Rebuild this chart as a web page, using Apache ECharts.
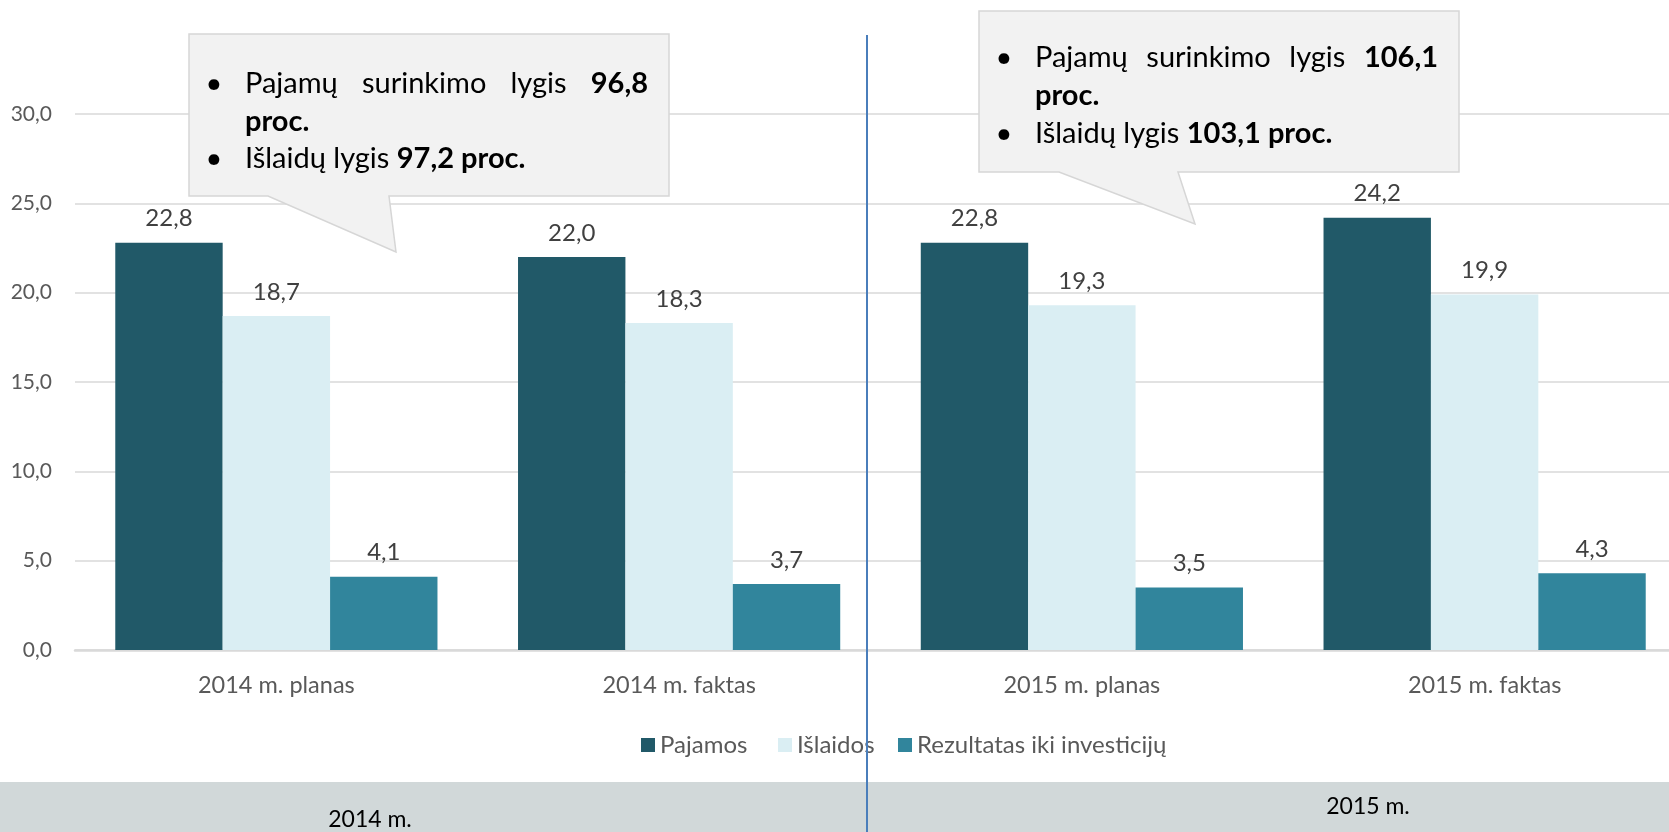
<!DOCTYPE html>
<html>
<head>
<meta charset="utf-8">
<script src="https://cdn.jsdelivr.net/npm/echarts@6/dist/echarts.min.js"></script>
<style>
html,body{margin:0;padding:0;background:#fff;overflow:hidden;width:1669px;height:832px;}
#chart{width:1700px;height:832px;}
</style>
</head>
<body>
<div id="chart"></div>
<script>
// ---- data ----
const categories = ['2014 m. planas', '2014 m. faktas', '2015 m. planas', '2015 m. faktas'];
const seriesNames = ['Pajamos', 'Išlaidos', 'Rezultatas iki investicijų'];
const pajamos = [22.8, 22.0, 22.8, 24.2];
const islaidos = [18.7, 18.3, 19.3, 19.9];
const rezultatas = [4.1, 3.7, 3.5, 4.3];
const yTicks = [0, 5, 10, 15, 20, 25, 30];
const periodLabels = ['2014 m.', '2015 m.'];
const callout1 = { words: ['Pajamų', 'surinkimo', 'lygis'], boldEnd: '96,8', line2: 'proc.', line3n: 'Išlaidų lygis ', line3b: '97,2 proc.' };
const callout2 = { words: ['Pajamų', 'surinkimo', 'lygis'], boldEnd: '106,1', line2: 'proc.', line3n: 'Išlaidų lygis ', line3b: '103,1 proc.' };

const colors = ['#215968', '#DAEEF3', '#31859C'];
const FONT = "Lato, 'Open Sans', sans-serif";
const fmt = v => Number(v).toFixed(1).replace('.', ',');

const chart = echarts.init(document.getElementById('chart'));

const mctx = document.createElement('canvas').getContext('2d');
function measure(text, size, weight) {
  mctx.font = (weight || 'normal') + ' ' + size + 'px ' + FONT;
  return mctx.measureText(text).width;
}

const CF = 29; // callout font size
function calloutGraphics(c, box, tip, textLeft, bulletX, rightX, ys) {
  const els = [];
  els.push({
    type: 'polygon', z: 100,
    shape: { points: [[box.x0, box.y0], [box.x1, box.y0], [box.x1, box.y1], [tip.b1, box.y1], [tip.tx, tip.ty], [tip.b0, box.y1], [box.x0, box.y1]] },
    style: { fill: '#F2F2F2', stroke: '#D6D6D6', lineWidth: 1.5 }
  });
  [ys[0], ys[2]].forEach(y => els.push({
    type: 'text', z: 101, x: bulletX, y: y,
    style: { text: '•', font: 'normal ' + CF + 'px ' + FONT, fill: '#000', verticalAlign: 'middle', align: 'center' }
  }));
  const parts = c.words.map(w => ({ t: w, w: measure(w, CF, 'normal'), b: false }));
  parts.push({ t: c.boldEnd, w: measure(c.boldEnd, CF, 'bold'), b: true });
  const total = parts.reduce((s, p) => s + p.w, 0);
  const gap = (rightX - textLeft - total) / (parts.length - 1);
  let x = textLeft;
  parts.forEach(p => {
    els.push({
      type: 'text', z: 101, x: x, y: ys[0],
      style: { text: p.t, font: (p.b ? 'bold ' : 'normal ') + CF + 'px ' + FONT, fill: '#000', verticalAlign: 'middle', align: 'left' }
    });
    x += p.w + gap;
  });
  els.push({
    type: 'text', z: 101, x: textLeft, y: ys[1],
    style: { text: c.line2, font: 'bold ' + CF + 'px ' + FONT, fill: '#000', verticalAlign: 'middle', align: 'left' }
  });
  els.push({
    type: 'text', z: 101, x: textLeft, y: ys[2],
    style: {
      text: '{n|' + c.line3n + '}{b|' + c.line3b + '}',
      verticalAlign: 'middle', align: 'left',
      rich: {
        n: { fontFamily: FONT, fontSize: CF, fontWeight: 'normal', fill: '#000', color: '#000' },
        b: { fontFamily: FONT, fontSize: CF, fontWeight: 'bold', fill: '#000', color: '#000' }
      }
    }
  });
  return els;
}

const graphics = [
  { type: 'rect', z: 0, shape: { x: 0, y: 782, width: 1700, height: 50 }, style: { fill: '#D1D8D9' } },
  { type: 'line', z: 50, shape: { x1: 867, y1: 35, x2: 867, y2: 832 }, style: { stroke: '#4A7EBB', lineWidth: 2 } },
  { type: 'text', z: 60, x: 370, y: 820, style: { text: periodLabels[0], font: 'normal 23px ' + FONT, fill: '#000', align: 'center', verticalAlign: 'middle' } },
  { type: 'text', z: 60, x: 1368, y: 807, style: { text: periodLabels[1], font: 'normal 23px ' + FONT, fill: '#000', align: 'center', verticalAlign: 'middle' } }
].concat(
  calloutGraphics(callout1, { x0: 189, y0: 34, x1: 669, y1: 196 }, { b0: 268, b1: 389, tx: 396, ty: 252 }, 245, 214, 648, [84, 122, 159]),
  calloutGraphics(callout2, { x0: 979, y0: 11, x1: 1459, y1: 172 }, { b0: 1059, b1: 1178, tx: 1195, ty: 224 }, 1035, 1004, 1438, [58, 96, 134])
);

const seriesData = [pajamos, islaidos, rezultatas];
const legendLefts = [641, 778, 898];
const option = {
  animation: false,
  backgroundColor: '#fff',
  textStyle: { fontFamily: FONT },
  grid: { left: 75, top: 114, width: 1611, height: 536, containLabel: false },
  legend: seriesNames.map((n, i) => ({
    data: [n],
    left: legendLefts[i], top: 733, padding: 0,
    icon: 'rect', itemWidth: 14, itemHeight: 14, itemGap: 0,
    textStyle: { color: '#595959', fontSize: 24, fontFamily: FONT }
  })),
  xAxis: {
    type: 'category', data: categories,
    axisTick: { show: false },
    axisLine: { lineStyle: { color: '#D9D9D9', width: 2.5 } },
    axisLabel: { color: '#595959', fontSize: 23.5, margin: 23, fontFamily: FONT }
  },
  yAxis: {
    type: 'value', min: yTicks[0], max: yTicks[yTicks.length - 1], interval: yTicks[1] - yTicks[0],
    axisLine: { show: false }, axisTick: { show: false },
    splitLine: { lineStyle: { color: '#D9D9D9', width: 1.5 } },
    axisLabel: { color: '#595959', fontSize: 21, margin: 23, formatter: v => fmt(v), fontFamily: FONT }
  },
  series: seriesNames.map((n, i) => ({
    name: n, type: 'bar', data: seriesData[i],
    barGap: '0%', barCategoryGap: '20%',
    itemStyle: { color: colors[i] },
    label: { show: true, position: 'top', distance: 12, color: '#404040', fontSize: 24, fontFamily: FONT, formatter: p => fmt(p.value) }
  })),
  graphic: graphics
};
chart.setOption(option);
</script>
</body>
</html>
